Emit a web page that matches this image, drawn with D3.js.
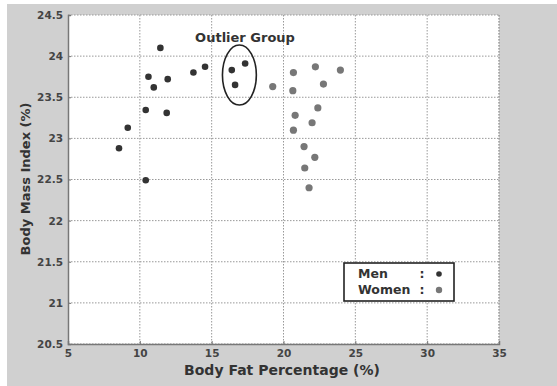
<!DOCTYPE html>
<html><head><meta charset="utf-8">
<script src="https://cdn.jsdelivr.net/npm/d3@7/dist/d3.min.js"></script>
<style>
html,body{margin:0;padding:0;background:#fff;}
svg{display:block;font-family:"DejaVu Sans",sans-serif;}
</style></head>
<body><svg id="c" width="557" height="386"></svg>
<script>
const xTicks = [5,10,15,20,25,30,35];
const yTicks = [20.5,21,21.5,22,22.5,23,23.5,24,24.5];
const menX = [8.55,9.16,10.41,10.41,10.6,10.97,11.43,11.87,11.94,13.73,14.54,16.4,16.63,17.33];
const menY = [22.88,23.13,22.49,23.345,23.75,23.62,24.1,23.31,23.72,23.80,23.87,23.83,23.65,23.91];
const womenX = [19.25,20.69,20.65,22.22,23.96,22.78,22.39,20.81,21.99,20.69,21.43,22.18,21.48,21.78];
const womenY = [23.63,23.80,23.58,23.87,23.83,23.66,23.37,23.28,23.19,23.10,22.90,22.77,22.64,22.40];
const outlier = {cx:16.93, cy:23.77, rx:1.18, ry:0.365};

const FONT = "'DejaVu Sans',sans-serif";
const svg = d3.select("#c");
svg.append("rect").attr("x",7).attr("y",4).attr("width",550).attr("height",382).attr("fill","#d0d0d0");

const L=68, R=499, T=15, B=344;
const x = d3.scaleLinear().domain([5,35]).range([L,R]);
const y = d3.scaleLinear().domain([20.5,24.5]).range([B,T]);

svg.append("rect").attr("x",L).attr("y",T).attr("width",R-L).attr("height",B-T).attr("fill","#fff");

const grid = svg.append("g");
grid.selectAll(".gx").data(xTicks.slice(1)).join("line")
  .attr("x1",d=>x(d)).attr("x2",d=>x(d)).attr("y1",T).attr("y2",B)
  .attr("stroke","#999").attr("stroke-width",1).attr("stroke-dasharray","1.5,1.5");
grid.selectAll(".gy").data(yTicks.slice(0,-1)).join("line")
  .attr("y1",d=>y(d)).attr("y2",d=>y(d)).attr("x1",L).attr("x2",R)
  .attr("stroke","#999").attr("stroke-width",1).attr("stroke-dasharray","1.5,1.5");
svg.append("line").attr("x1",L).attr("x2",R).attr("y1",T).attr("y2",T)
  .attr("stroke","#999").attr("stroke-dasharray","1.5,1.5");
svg.append("line").attr("x1",R).attr("x2",R).attr("y1",T).attr("y2",B)
  .attr("stroke","#999").attr("stroke-dasharray","1.5,1.5");

const xAxis = svg.append("g").attr("transform",`translate(0,${B})`)
  .call(d3.axisBottom(x).tickValues(xTicks).tickSize(-3).tickPadding(6).tickFormat(d3.format("d")));
const yAxis = svg.append("g").attr("transform",`translate(${L},0)`)
  .call(d3.axisLeft(y).tickValues(yTicks).tickSize(-3).tickPadding(5).tickFormat(d=>String(d)));
[xAxis,yAxis].forEach(a=>{
  a.select(".domain").attr("stroke","#777").attr("stroke-width",1.5);
  a.selectAll(".tick line").attr("stroke","#777");
  a.selectAll("text").attr("fill","#444").attr("font-size",10.5).attr("font-weight","bold")
   .attr("font-family",FONT);
});

svg.append("text").attr("x",282).attr("y",375).attr("text-anchor","middle")
  .attr("font-size",14).attr("font-weight","bold").attr("fill","#333").text("Body Fat Percentage (%)");
svg.append("text").attr("transform","translate(30,179) rotate(-90)").attr("text-anchor","middle")
  .attr("font-size",13).attr("font-weight","bold").attr("fill","#333").text("Body Mass Index (%)");

svg.append("g").selectAll("circle").data(menX.map((v,i)=>[v,menY[i]])).join("circle")
  .attr("cx",d=>x(d[0])).attr("cy",d=>y(d[1])).attr("r",3.3).attr("fill","#333");
svg.append("g").selectAll("circle").data(womenX.map((v,i)=>[v,womenY[i]])).join("circle")
  .attr("cx",d=>x(d[0])).attr("cy",d=>y(d[1])).attr("r",3.6).attr("fill","#777");

svg.append("ellipse").attr("cx",x(outlier.cx)).attr("cy",y(outlier.cy))
  .attr("rx",x(outlier.cx+outlier.rx)-x(outlier.cx)).attr("ry",y(outlier.cy)-y(outlier.cy+outlier.ry))
  .attr("fill","none").attr("stroke","#222").attr("stroke-width",1.6);
svg.append("text").attr("x",245).attr("y",42).attr("text-anchor","middle")
  .attr("font-size",13).attr("font-weight","bold").attr("fill","#333").text("Outlier Group");

const lg = svg.append("g");
lg.append("rect").attr("x",344).attr("y",263).attr("width",110).attr("height",38)
  .attr("fill","#fff").attr("stroke","#222").attr("stroke-width",1.6);
const legendLabels = ["Men","Women"];
const legendColors = ["#333","#777"];
legendLabels.forEach((t,i)=>{
  const by = 278 + i*16;
  lg.append("text").attr("x",358).attr("y",by).attr("font-size",12.5).attr("font-weight","bold").attr("fill","#333").text(t);
  lg.append("text").attr("x",422).attr("y",by).attr("text-anchor","middle").attr("font-size",12.5).attr("font-weight","bold").attr("fill","#333").text(":");
  lg.append("circle").attr("cx",439).attr("cy",by-4).attr("r",i?3.2:2.8).attr("fill",legendColors[i]);
});
</script></body></html>
